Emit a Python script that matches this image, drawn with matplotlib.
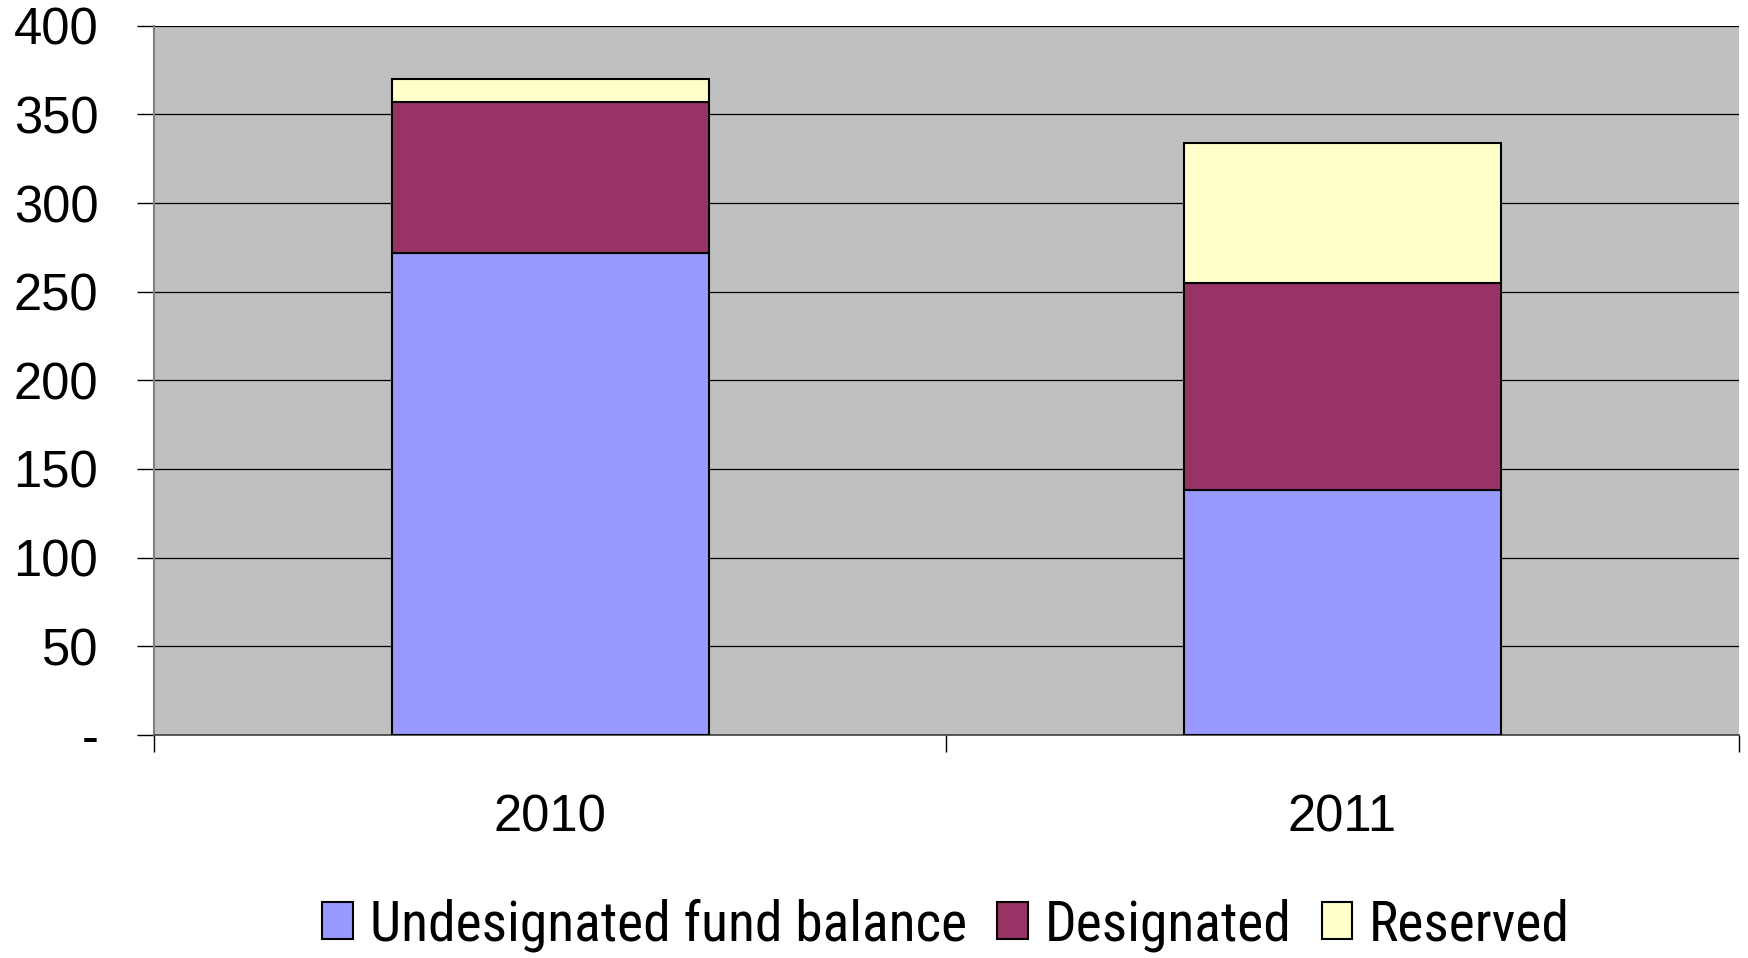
import matplotlib
matplotlib.use('Agg')
import matplotlib.pyplot as plt
from matplotlib import font_manager
from matplotlib.patches import Patch
import numpy as np

# ─── Data ─────────────────────────────────────────────────────────────────────
years = ['2010', '2011']
undesignated = [272, 138]
designated = [85, 117]
reserved = [13, 79]

series_names = ['Undesignated fund balance', 'Designated', 'Reserved']
series_colors = ['#9999FF', '#993366', '#FFFFCC']

plt.rcParams['font.family'] = ['Liberation Sans', 'DejaVu Sans']

# legend in the original uses a narrow face; take one if installed
narrow = None
for f in font_manager.fontManager.ttflist:
    n = f.name.lower()
    if ('narrow' in n or 'condensed' in n) and 'bold' not in f.style.lower() \
            and f.weight in (400, 'normal', 'regular'):
        narrow = f.name
        if 'liberation' in n:
            break
legend_family = [narrow, 'Liberation Sans'] if narrow else ['Liberation Sans']
legend_size = 40 if narrow else 34

fig = plt.figure(figsize=(17.49, 9.58), dpi=100)
ax = fig.add_axes([0.088, 0.233, 0.906, 0.740])
ax.set_facecolor('#C0C0C0')

x = np.arange(len(years))
bottoms = np.zeros(len(years))
for vals, color in zip([undesignated, designated, reserved], series_colors):
    ax.bar(x, vals, width=0.40, bottom=bottoms, color=color,
           edgecolor='black', linewidth=1.5, zorder=3)
    bottoms += np.array(vals)

ax.set_xlim(-0.5, len(years) - 0.5)
ax.set_ylim(0, 400)

# y axis
yt = np.arange(0, 401, 50)
ax.set_yticks(yt)
ax.set_yticklabels(['-'] + [str(v) for v in yt[1:]])
ax.tick_params(axis='y', direction='out', length=12, width=1, labelsize=36.5, pad=28)
ax.yaxis.grid(True, color='black', linewidth=0.9, zorder=1)

# x axis: tick marks at category boundaries, labels at centers
ax.set_xticks(np.arange(-0.5, len(years), 1.0))
ax.set_xticklabels([])
ax.set_xticks(x, minor=True)
ax.set_xticklabels(years, minor=True)
ax.tick_params(axis='x', which='major', direction='out', length=12, width=1)
ax.tick_params(axis='x', which='minor', length=0, labelsize=36.5, pad=42)

for s in ['top', 'right']:
    ax.spines[s].set_visible(False)
ax.spines['left'].set_color('#808080')
ax.spines['left'].set_linewidth(1.5)
ax.spines['bottom'].set_color('#404040')
ax.spines['bottom'].set_linewidth(1.2)

handles = [Patch(facecolor=c, edgecolor='black', linewidth=1.5, label=n)
           for n, c in zip(series_names, series_colors)]
ax.legend(handles=handles, loc='center', bbox_to_anchor=(0.5, -0.268),
          ncol=3, frameon=False, handlelength=0.55, handleheight=0.65,
          handletextpad=0.3, columnspacing=0.55,
          prop={'family': legend_family, 'size': legend_size})

fig.savefig('out.png', dpi=100, facecolor='white')
